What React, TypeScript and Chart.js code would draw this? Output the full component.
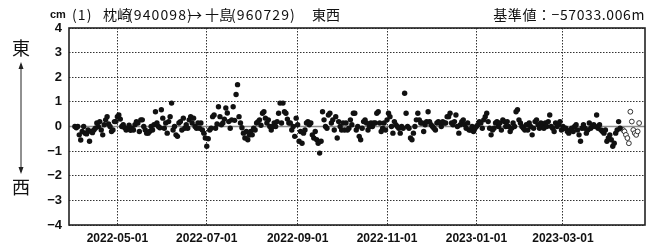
import React, { useEffect, useRef } from "react";
import { Chart, registerables } from "chart.js";
Chart.register(...registerables);

// ---- data (cm, east-west component), one value per day ----
const baseDate = "2022-04-01";
const firstObsDate = "2022-04-02";
const eastWestCm = [
  0, -0.05, 0, -0.34, -0.55, -0.2, 0, -0.27, -0.3, -0.14,
  -0.6, -0.2, -0.25, -0.14, -0.07, 0.14, 0, 0.2, -0.14, -0.34,
  0.07, 0.27, 0.4, 0.1, 0, -0.2, -0.14, 0.2, 0.2, 0.4,
  0.47, 0.3, 0, 0.07, -0.05, -0.14, -0.1, 0.05, -0.15, -0.07,
  -0.14, 0.07, 0.2, 0.14, -0.2, 0.27, 0.27, 0, -0.14, -0.27,
  -0.27, -0.2, 0, -0.14, 0.07, 0.6, 0.14, 0, -0.05, 0.68,
  0.34, -0.07, 0.14, -0.27, 0.2, 0.4, 0.95, -0.14, 0, -0.34,
  -0.4, 0.14, 0.2, -0.14, 0.34, -0.07, 0.07, -0.07, 0.27, 0.4,
  0.14, 0.34, 0, -0.07, 0.14, -0.07, 0.14, -0.14, -0.27, -0.47,
  -0.8, -0.5, -0.14, -0.07, 0.4, 0.47, -0.07, 0.1, 0.8, 0.4,
  0.07, 0.14, 0.3, 0.75, 0.55, 0.2, -0.07, 0.27, 0.8, 0.25,
  1.3, 1.7, 0.4, 0.14, -0.05, -0.27, -0.47, -0.2, -0.54, -0.35,
  -0.2, -0.34, -0.07, -0.14, 0.14, 0.2, 0.27, 0.05, 0.54, 0.6,
  0.34, 0.14, 0.27, 0, -0.14, 0, 0.14, 0, 0.2, 0.54,
  0.95, 0.14, 0.95, 0.6, 0.54, 0.3, 0.14, 0.14, -0.14, 0,
  -0.4, 0.34, 0.07, -0.6, -0.2, -0.68, -0.27, -0.14, 0.14, 0.2,
  0.07, 0.14, -0.34, -0.47, -0.2, -0.54, -0.68, -1.08, -0.6, 0.6,
  0.27, 0, -0.07, 0.47, 0.54, 0.14, 0.27, -0.14, 0.4, -0.47,
  0.2, 0, -0.14, 0.14, -0.14, 0.14, -0.14, -0.07, 0.27, 0.07,
  0.54, 0.54, -0.14, 0, -0.4, -0.54, -0.07, 0.2, 0.27, 0.14,
  -0.14, 0, 0.14, 0, 0.14, 0.14, 0.54, 0.6, 0.14, -0.2,
  -0.07, 0.14, -0.14, 0.27, 0.54, 0.4, 0, -0.27, 0.2, 0.07,
  0, -0.07, -0.27, 0, -0.07, 1.35, 0.54, 0, -0.07, -0.47,
  -0.54, -0.27, 0, 0.27, 0.54, 0.27, 0.14, 0.14, -0.2, 0.07,
  0.2, 0.6, 0.2, 0.07, 0, -0.07, -0.14, 0.14, 0.2, 0.14,
  0, 0.2, 0.14, 0.14, 0.4, 0.4, 0.54, 0.14, 0.07, 0.2,
  0.47, 0, -0.27, 0.07, 0.2, 0.27, 0.07, -0.07, 0.14, -0.14,
  -0.14, 0, -0.2, -0.07, 0, 0.07, 0.2, 0.14, -0.07, 0.27,
  0.4, 0.54, 0.2, -0.07, -0.34, -0.14, -0.07, 0.14, 0.2, 0,
  0.14, -0.14, 0.27, 0.2, 0, 0.2, 0, -0.2, -0.07, 0.14,
  0, 0.6, 0.68, 0.27, 0.14, 0, -0.07, -0.14, 0.07, -0.14,
  0.14, 0, -0.34, -0.07, 0.2, 0.27, 0.07, -0.07, 0.14, 0,
  -0.07, 0.14, 0, 0.2, 0.47, 0, -0.07, -0.2, 0.14, 0,
  0.07, 0.2, -0.14, 0, -0.07, -0.07, -0.2, -0.27, -0.14, -0.07,
  -0.2, 0, 0.07, -0.14, -0.34, -0.6, -0.07, 0.07, -0.07, -0.27,
  -0.14, 0.14, -0.07, 0, 0.07, 0, 0.47, -0.07, 0.07, -0.14,
  -0.2, -0.27, -0.14, -0.6, -0.47, -0.34, -0.54, -0.8, -0.68, -0.27,
  -0.14, 0.2, -0.07,
];
// provisional (quick) solutions, drawn hollow
const provisionalStartDate = "2023-04-11";
const provisionalCm = [-0.14, -0.2, -0.34, -0.47, -0.68, 0.6, 0.2, -0.14, -0.27, -0.34, -0.2, 0.14];

const axisMinDate = "2022-03-29";
const axisMaxDate = "2023-04-26";
const xTickDates = ["2022-05-01", "2022-07-01", "2022-09-01", "2022-11-01", "2023-01-01", "2023-03-01"];
const yTickValues = [-4, -3, -2, -1, 0, 1, 2, 3, 4];

const unitLabel = "cm";
const stationIndex = "(1)";
const stationFrom = "枕崎";
const stationFromCode = "(940098)";
const arrowText = "→";
const stationTo = "十島";
const stationToCode = "(960729)";
const componentLabel = "東西";
const referenceLabel = "基準値：−57033.006m";
const eastLabel = "東";
const westLabel = "西";

const DAY_MS = 86400000;
const dayOf = (s: string) => Math.round((Date.parse(s) - Date.parse(baseDate)) / DAY_MS);

const TICK_FONT = "'Liberation Sans', Arial, sans-serif";
const JP_FONT = "'Noto Sans CJK JP', 'Noto Sans', sans-serif";

export default function App() {
  const ref = useRef<HTMLCanvasElement | null>(null);

  useEffect(() => {
    const canvas = ref.current;
    if (!canvas) return;
    const d0 = dayOf(firstObsDate);
    const p0 = dayOf(provisionalStartDate);
    const solid = eastWestCm.map((v, i) => ({ x: d0 + i, y: v }));
    const hollow = provisionalCm.map((v, i) => ({ x: p0 + i, y: v }));
    const tickDays = xTickDates.map(dayOf);

    const decor = {
      id: "decor",
      beforeDatasetsDraw(chart: any) {
        const { ctx, chartArea } = chart;
        const y0 = chart.scales.y.getPixelForValue(0);
        ctx.save();
        ctx.strokeStyle = "#8c8c8c";
        ctx.lineWidth = 1.5;
        ctx.beginPath();
        ctx.moveTo(chartArea.left, y0);
        ctx.lineTo(chartArea.right, y0);
        ctx.stroke();
        ctx.restore();
      },
      afterDraw(chart: any) {
        const { ctx, chartArea } = chart;
        ctx.save();
        // frame
        ctx.strokeStyle = "#222";
        ctx.lineWidth = 1.6;
        ctx.strokeRect(chartArea.left, chartArea.top, chartArea.right - chartArea.left, chartArea.bottom - chartArea.top);
        // title
        ctx.fillStyle = "#111";
        ctx.textBaseline = "middle";
        ctx.textAlign = "left";
        ctx.font = `bold 11px ${TICK_FONT}`;
        ctx.fillText(unitLabel, 50, 15);
        ctx.font = `14px ${JP_FONT}`;
        (ctx as any).letterSpacing = "1.1px";
        ctx.fillText(stationIndex, 72, 15);
        ctx.fillText(stationFromCode, 128, 15);
        ctx.fillText(stationToCode, 231, 15);
        (ctx as any).letterSpacing = "0px";
        ctx.fillText(stationFrom, 103, 15);
        ctx.fillText(arrowText, 188, 15);
        ctx.fillText(stationTo, 205, 15);
        ctx.fillText(componentLabel, 312, 15);
        ctx.textAlign = "right";
        (ctx as any).letterSpacing = "0.6px";
        ctx.fillText(referenceLabel, chartArea.right, 15);
        (ctx as any).letterSpacing = "0px";
        // east / west
        ctx.textAlign = "center";
        ctx.font = `18px ${JP_FONT}`;
        ctx.fillText(eastLabel, 21, 48);
        ctx.fillText(westLabel, 21, 187);
        // double arrow
        const ax = 21, top = 62, bot = 174;
        ctx.strokeStyle = "#222";
        ctx.fillStyle = "#222";
        ctx.lineWidth = 1;
        ctx.beginPath();
        ctx.moveTo(ax, top + 2);
        ctx.lineTo(ax, bot - 2);
        ctx.stroke();
        ctx.beginPath();
        ctx.moveTo(ax, top);
        ctx.lineTo(ax - 2.5, top + 7);
        ctx.lineTo(ax + 2.5, top + 7);
        ctx.closePath();
        ctx.fill();
        ctx.beginPath();
        ctx.moveTo(ax, bot);
        ctx.lineTo(ax - 2.5, bot - 7);
        ctx.lineTo(ax + 2.5, bot - 7);
        ctx.closePath();
        ctx.fill();
        ctx.restore();
      },
    };

    const chart = new Chart(canvas, {
      type: "scatter",
      data: {
        datasets: [
          {
            data: solid,
            pointRadius: 2.7,
            pointBackgroundColor: "#111",
            pointBorderColor: "#111",
            pointBorderWidth: 0,
          },
          {
            data: hollow,
            pointRadius: 2.4,
            pointBackgroundColor: "#fff",
            pointBorderColor: "#333",
            pointBorderWidth: 1,
          },
        ],
      },
      options: {
        animation: false,
        responsive: false,
        devicePixelRatio: 1,
        layout: { padding: { left: 0, top: 28, right: 7, bottom: 0 } },
        plugins: { legend: { display: false }, tooltip: { enabled: false }, title: { display: false } },
        scales: {
          x: {
            type: "linear",
            min: dayOf(axisMinDate),
            max: dayOf(axisMaxDate),
            afterBuildTicks: (scale: any) => {
              scale.ticks = tickDays.map((v) => ({ value: v }));
            },
            afterFit: (scale: any) => {
              scale.height = 20;
            },
            grid: { color: "#333", lineWidth: 1, drawTicks: false },
            border: { display: false, dash: [1.5, 1.5] },
            ticks: {
              autoSkip: false,
              maxRotation: 0,
              padding: 6,
              color: "#111",
              font: { family: TICK_FONT, size: 12, weight: "bold" },
              callback: (v: any) => {
                const i = tickDays.indexOf(Number(v));
                return i >= 0 ? xTickDates[i] : "";
              },
            },
          },
          y: {
            type: "linear",
            min: -4,
            max: 4,
            afterBuildTicks: (scale: any) => {
              scale.ticks = yTickValues.map((v) => ({ value: v }));
            },
            afterFit: (scale: any) => {
              scale.width = 69;
            },
            grid: { color: "#333", lineWidth: 1, drawTicks: false },
            border: { display: false, dash: [1.5, 1.5] },
            ticks: {
              padding: 7,
              color: "#111",
              font: { family: TICK_FONT, size: 13, weight: "bold" },
              callback: (v: any) => (Number(v) < 0 ? "−" + Math.abs(Number(v)) : String(v)),
            },
          },
        },
      },
      plugins: [decor],
    } as any);
    return () => chart.destroy();
  }, []);

  return (
    <div style={{ position: "fixed", left: 0, top: 0, width: 652, height: 245, background: "#fff" }}>
      <canvas ref={ref} width={652} height={245} style={{ display: "block", width: 652, height: 245 }} />
    </div>
  );
}
